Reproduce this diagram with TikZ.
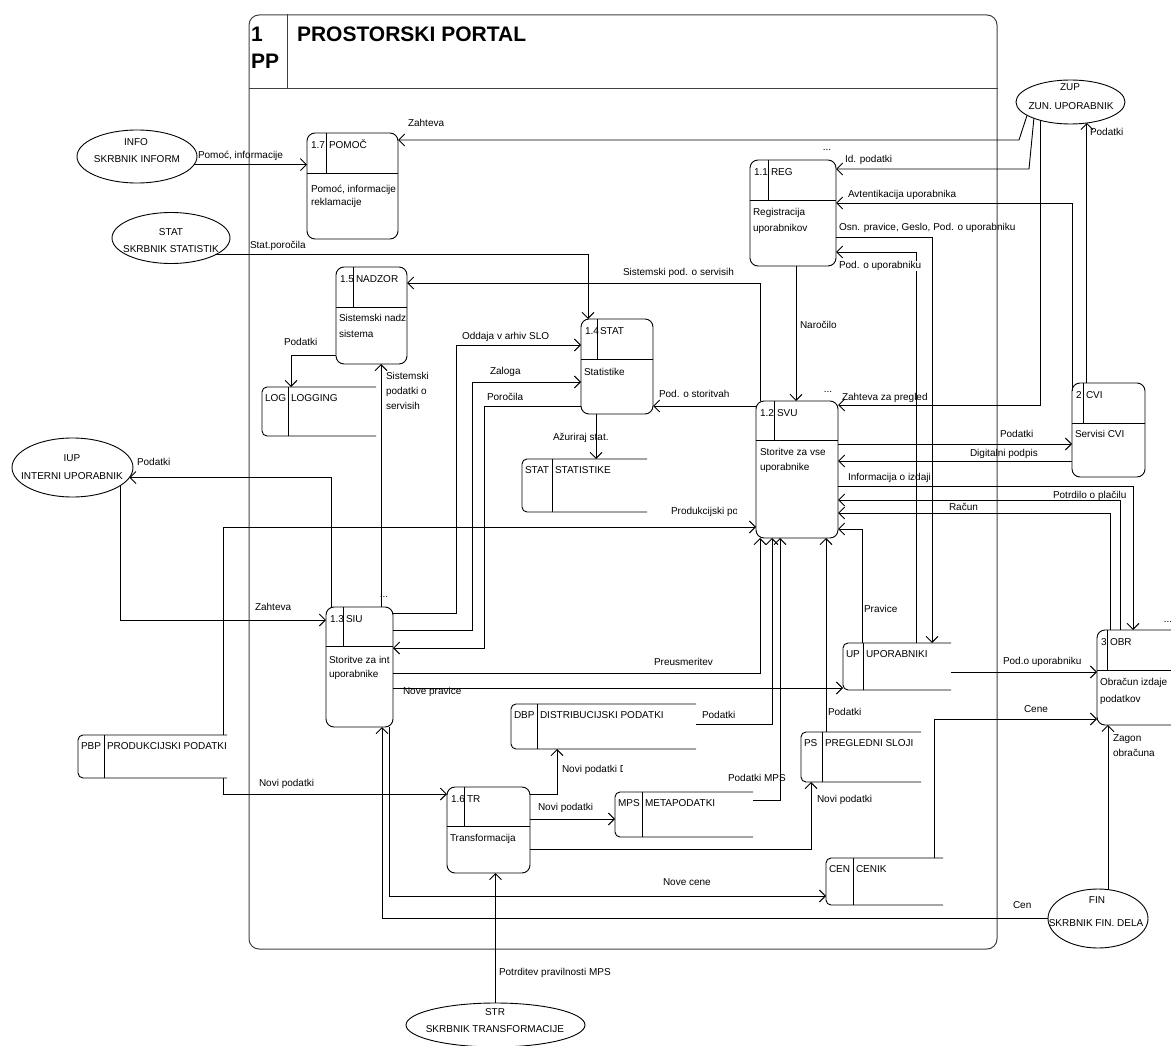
\documentclass[tikz,border=0pt]{standalone}
\usepackage{fontspec}
\setmainfont{Liberation Sans}
\usetikzlibrary{arrows.meta,shapes.geometric}

\tikzset{
  lbl/.style={inner sep=0pt, outer sep=0pt, font=\fontsize{10}{12}\selectfont,
              text height=7.3pt, text depth=2pt, anchor=west},
  ctext/.style={lbl, anchor=center},
  bigtitle/.style={inner sep=0pt, outer sep=0pt, anchor=west,
              font=\fontsize{21}{25}\selectfont\bfseries, text height=15pt, text depth=0pt},
  procshape/.style={draw, rounded corners=8pt, inner sep=0pt, outer sep=0pt},
  storearea/.style={inner sep=0pt, outer sep=0pt},
  ent/.style={draw, ellipse, inner sep=0pt, outer sep=0pt},
  flow/.style={draw, -{Straight Barb[length=6pt,width=12pt]}},
  wall/.style={draw=black!75, line width=1pt},
}

% process: name, x1, y1, x2, y2, header y, divider x, number, title
\newcommand\procbox[9]{%
  \node[procshape, minimum width={#4-#2}, minimum height={#5-#3}] (#1)
       at ({(#2+#4)/2},{(#3+#5)/2}) {};
  \draw (#2,#6) -- (#4,#6);
  \draw (#7,#3) -- (#7,#6);
  \node[lbl] at (#2+4,#3+13) {#8};
  \node[lbl] at (#7+3,#3+13) {#9};
}

% data store: name, x1, y1, x2, y2, divider x, code, title
\newcommand\storebox[8]{%
  \draw[rounded corners=5pt] (#4,#3) -- (#2,#3) -- (#2,#5) -- (#4,#5);
  \draw (#6,#3) -- (#6,#5);
  \node[storearea, minimum width={#4-#2}, minimum height={#5-#3}] (#1)
       at ({(#2+#4)/2},{(#3+#5)/2}) {};
  \node[lbl] at (#2+3,#3+12) {#7};
  \begin{scope}
    \clip (#6,#3) rectangle (#4,#5);
    \node[lbl] at (#6+3,#3+12) {#8};
  \end{scope}
}

\begin{document}
\begin{tikzpicture}[x=1pt,y=-1pt,line width=0.9pt]
\useasboundingbox (0,0) rectangle (1171,1046);
\clip (0,0) rectangle (1171,1046);

% ---- portal frame
\node[wall, rounded corners=10pt, inner sep=0pt, minimum width=748, minimum height=934]
     (portal) at (623,482) {};
\draw[wall] (portal.west |- 0,89) -- (portal.east |- 0,89);
\draw[wall] (287,0 |- portal.north) -- (287,89);
\node[bigtitle] at (251,34) {1};
\node[bigtitle] at (251,61) {PP};
\node[bigtitle] at (297,34) {PROSTORSKI PORTAL};

% ---- processes
\procbox{pomoc}{307}{133}{398}{239}{173}{326}{1.7}{POMOČ}
\procbox{reg}{750}{160}{836}{266}{200}{768}{1.1}{REG}
\procbox{nadzor}{336}{267}{407}{364}{307}{353}{1.5}{NADZOR}
\procbox{stat}{581}{319}{653}{414}{359}{597}{1.4}{STAT}
\procbox{svu}{756}{401}{838}{538}{440}{774}{1.2}{SVU}
\procbox{cvi}{1072}{383}{1145}{477}{423}{1083}{2}{CVI}
\procbox{siu}{326}{607}{393}{727}{646}{343}{1.3}{SIU}
\procbox{tr}{447}{787}{530}{873}{826}{464}{1.6}{TR}
\procbox{obr}{1097}{630}{1190}{725}{670}{1107}{3}{OBR}

\begin{scope}
  \clip (307,173) rectangle (397,239);
  \node[lbl] at (311,190) {Pomoć, informacije};
\end{scope}
\node[lbl] at (311,203) {reklamacije};
\node[lbl] at (753,213) {Registracija};
\node[lbl] at (753,229) {uporabnikov};
\node[lbl] at (339,319) {Sistemski nadz};
\node[lbl] at (339,335) {sistema};
\node[lbl] at (584,373) {Statistike};
\node[lbl] at (760,453) {Storitve za vse};
\node[lbl] at (760,468) {uporabnike};
\node[lbl] at (1075,435) {Servisi CVI};
\node[lbl] at (329,661) {Storitve za int};
\node[lbl] at (329,675) {uporabnike};
\node[lbl] at (450,839) {Transformacija};
\node[lbl] at (1100,683) {Obračun izdaje};
\node[lbl] at (1100,700) {podatkov};

% ---- data stores
\storebox{log}{262}{387}{376}{436}{288}{LOG}{LOGGING}
\storebox{stats}{522}{459}{647}{512}{552}{STAT}{STATISTIKE}
\storebox{pbp}{78}{735}{227}{778}{104}{PBP}{PRODUKCIJSKI PODATKI}
\storebox{dbp}{511}{704}{696}{749}{537}{DBP}{DISTRIBUCIJSKI PODATKI}
\storebox{mps}{615}{792}{753}{837}{642}{MPS}{METAPODATKI}
\storebox{ps}{801}{732}{921}{782}{822}{PS}{PREGLEDNI SLOJI}
\storebox{up}{843}{643}{951}{690}{863}{UP}{UPORABNIKI}
\storebox{cen}{826}{858}{943}{905}{853}{CEN}{CENIK}

% ---- external entities
\node[ent, minimum width=120, minimum height=53] (info) at (137,156.5) {};
\node[ent, minimum width=118, minimum height=51] (sstat) at (171,238) {};
\node[ent, minimum width=109, minimum height=44] (zup) at (1070.5,102) {};
\node[ent, minimum width=121, minimum height=59] (iup) at (72.5,467.5) {};
\node[ent, minimum width=100, minimum height=59] (fin) at (1098,918.5) {};
\node[ent, minimum width=179, minimum height=44] (str) at (495.5,1025) {};

\node[ctext] at (136,143) {INFO};
\node[ctext] at (137,160) {SKRBNIK INFORM};
\node[ctext] at (171,233) {STAT};
\node[ctext] at (171,250) {SKRBNIK STATISTIK};
\node[ctext] at (1070,88) {ZUP};
\node[ctext] at (1071,107) {ZUN. UPORABNIK};
\node[ctext] at (72,459) {IUP};
\node[ctext] at (72,477) {INTERNI UPORABNIK};
\node[ctext] at (1097,901) {FIN};
\node[ctext] at (1096,924) {SKRBNIK FIN. DELA};
\node[ctext] at (495,1013) {STR};
\node[ctext] at (495,1030) {SKRBNIK TRANSFORMACIJE};

% ---- flows
\draw[flow] (info.352) -- (info.352 -| pomoc.west);
\draw[flow] (zup.197) -- (1019,140) -- (pomoc.east |- 0,140);
\draw[flow] (zup.204) -- (1029,169) -- (reg.east |- 0,169);
\draw[flow] (zup.211) -- (zup.211 |- 0,405) -- (svu.east |- 0,405);
\draw[flow] (zup.308 |- cvi.north) -- (zup.308);
\draw[flow] (cvi.west |- 0,391) -- (cvi.west |- 0,203) -- (reg.east |- 0,203);
\draw[flow] (reg.east |- 0,237) -| (932,0 |- up.north);
\draw[flow] (916,0 |- up.north) |- (reg.east |- 0,252);
\draw[flow] (796,0 |- reg.south) -- (796,0 |- svu.north);
\draw[flow] (760,0 |- svu.north) |- (nadzor.east |- 0,283);
\draw[flow] (nadzor.west |- 0,355) -| (291,0 |- log.north);
\draw[flow] (381,0 |- siu.north) -- (381,0 |- nadzor.south);
\draw[flow] (sstat.339) -| (588,0 |- stat.north);
\draw[flow] (siu.east |- 0,613) -| (456,345) -- (stat.west |- 0,345);
\draw[flow] (siu.east |- 0,630) -| (472,382) -- (stat.west |- 0,382);
\draw[flow] (stat.west |- 0,406) -| (484,648) -- (siu.east |- 0,648);
\draw[flow] (svu.west |- 0,406) -- (stat.east |- 0,406);
\draw[flow] (596,0 |- stat.south) -- (596,0 |- stats.north);
\draw[flow] (331,0 |- siu.north) |- (iup.350);
\draw[flow] (iup.339) |- (siu.west |- 0,620);
\draw[flow] (223,0 |- pbp.north) |- (svu.west |- 0,527);
\draw[flow] (223,0 |- pbp.south) |- (tr.west |- 0,794);
\draw[flow] (tr.east |- 0,794) -| (557,0 |- dbp.south);
\draw[flow] (dbp.east |- 0,724) -| (772,0 |- svu.south);
\draw[flow] (tr.east |- 0,819) -- (mps.west |- 0,819);
\draw[flow] (mps.east |- 0,800) -| (780,0 |- svu.south);
\draw[flow] (tr.east |- 0,849) -| (811,0 |- ps.south);
\draw[flow] (826,0 |- ps.north) -- (826,0 |- svu.south);
\draw[flow] (934,0 |- cen.north) |- (obr.west |- 0,719);
\draw[flow] (389,0 |- siu.south) |- (cen.west |- 0,896);
\draw[flow] (fin.west) -| (382,0 |- siu.south);
\draw[flow] (fin.71) -- (fin.71 |- obr.south);
\draw[flow] (up.east |- 0,672) -- (obr.west |- 0,672);
\draw[flow] (862,0 |- up.north) |- (svu.east |- 0,529);
\draw[flow] (siu.east |- 0,673) -| (760,0 |- svu.south);
\draw[flow] (siu.east |- 0,688) -- (up.west |- 0,688);
\draw[flow] (svu.east |- 0,444) -- (cvi.west |- 0,444);
\draw[flow] (cvi.west |- 0,461) -- (svu.east |- 0,461);
\draw[flow] (svu.east |- 0,486) -| (1133,0 |- obr.north);
\draw[flow] (1120,0 |- obr.north) |- (svu.east |- 0,500);
\draw[flow] (1110,0 |- obr.north) |- (svu.east |- 0,513);
\draw[flow] (str.north) -- (str.north |- tr.south);

% ---- flow labels
\node[lbl] at (198,156) {Pomoć, informacije};
\node[lbl] at (408,124) {Zahteva};
\node[lbl] at (845,160) {Id. podatki};
\node[ctext] at (827,148) {...};
\node[lbl] at (848,195) {Avtentikacija uporabnika};
\node[lbl] at (839,228) {Osn. pravice, Geslo, Pod. o uporabniku};
\node[lbl, fill=white, inner xsep=1pt] at (838,266) {Pod. o uporabniku};
\node[lbl] at (1090,133) {Podatki};
\node[lbl] at (250,246) {Stat.poročila};
\node[lbl] at (623,273) {Sistemski pod. o servisih};
\node[lbl] at (800,326) {Naročilo};
\node[lbl] at (284,343) {Podatki};
\node[lbl] at (462,337) {Oddaja v arhiv SLO};
\node[lbl] at (490,372) {Zaloga};
\node[lbl] at (487,398) {Poročila};
\node[lbl] at (659,395) {Pod. o storitvah};
\node[lbl] at (553,438) {Ažuriraj stat.};
\node[lbl] at (386,377) {Sistemski};
\node[lbl] at (386,392) {podatki o};
\node[lbl] at (386,407) {servisih};
\node[lbl] at (842,398) {Zahteva za pregled};
\node[ctext] at (828,390) {...};
\node[lbl] at (1000,435) {Podatki};
\node[lbl] at (970,454) {Digitalni podpis};
\node[lbl] at (848,478) {Informacija o izdaji};
\node[lbl] at (1053,496) {Potrdilo o plačilu};
\node[lbl] at (949,508) {Račun};
\node[lbl] at (137,463) {Podatki};
\begin{scope}
  \clip (660,500) rectangle (736,525);
  \node[lbl] at (671,512) {Produkcijski podatki};
\end{scope}
\node[lbl] at (255,608) {Zahteva};
\node[ctext] at (384,595) {...};
\node[lbl] at (864,610) {Pravice};
\node[ctext] at (1168,620) {...};
\node[lbl] at (654,663) {Preusmeritev};
\node[lbl] at (1003,662) {Pod.o uporabniku};
\node[lbl] at (403,692) {Nove pravice};
\node[lbl] at (702,716) {Podatki};
\node[lbl] at (828,713) {Podatki};
\node[lbl] at (1024,710) {Cene};
\node[lbl] at (1113,739) {Zagon};
\node[lbl] at (1113,754) {obračuna};
\begin{scope}
  \clip (555,760) rectangle (622,780);
  \node[lbl] at (562,770) {Novi podatki DBP};
\end{scope}
\node[lbl] at (728,779) {Podatki MPS};
\node[lbl] at (259,784) {Novi podatki};
\node[lbl] at (538,808) {Novi podatki};
\node[lbl] at (817,800) {Novi podatki};
\node[lbl] at (663,883) {Nove cene};
\node[lbl] at (1013,906) {Cen};
\node[lbl] at (499,973) {Potrditev pravilnosti MPS};
\end{tikzpicture}
\end{document}
